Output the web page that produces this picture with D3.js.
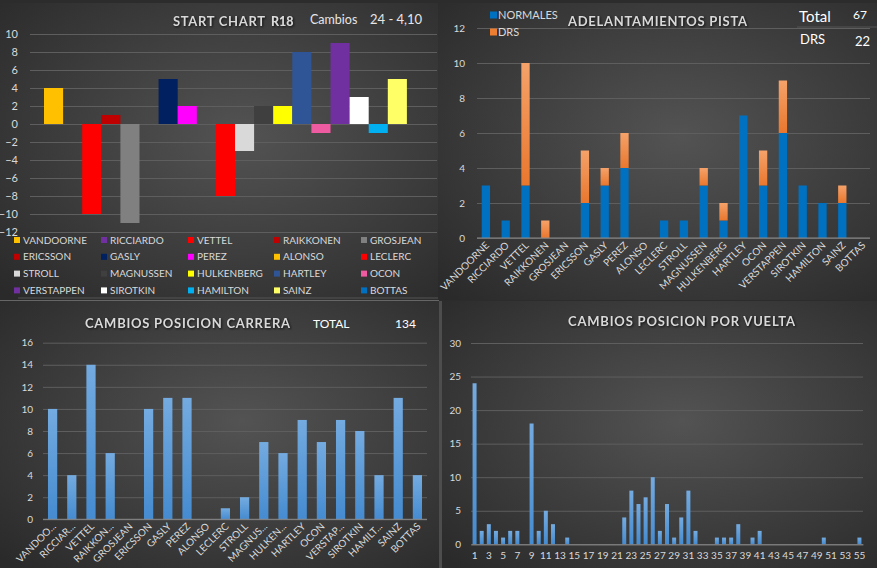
<!DOCTYPE html>
<html><head><meta charset="utf-8">
<script src="https://cdn.jsdelivr.net/npm/d3@7/dist/d3.min.js"></script>
<style>
body{margin:0;background:#2b2b2b;}
text{font-family:Lato,"Open Sans",sans-serif;}
.title{font-weight:bold;fill:#d9d9d9;filter:drop-shadow(1px 1px 1px #111);}
.axis text{fill:#d9d9d9;}
</style></head><body>
<svg id="c" width="877" height="568"></svg>
<script>
// ---------- DATA ----------
const drivers = ["VANDOORNE","RICCIARDO","VETTEL","RAIKKONEN","GROSJEAN","ERICSSON","GASLY","PEREZ","ALONSO","LECLERC","STROLL","MAGNUSSEN","HULKENBERG","HARTLEY","OCON","VERSTAPPEN","SIROTKIN","HAMILTON","SAINZ","BOTTAS"];
const driverColors = ["#FFC000","#7030A0","#FF0000","#C00000","#808080","#C00000","#002060","#FF00FF","#FFC000","#FF0000","#D9D9D9","#3F3F3F","#FFFF00","#2F5597","#EF5BA1","#7030A0","#FFFFFF","#00B0F0","#FFFF66","#0070C0"];
const startChange = [4,0,-10,1,-11,0,5,2,0,-8,-3,2,2,8,-1,9,3,-1,5,0];
const startTicks = [-12,-10,-8,-6,-4,-2,0,2,4,6,8,10];

const overtakeNormal = [3,1,3,0,0,2,3,4,0,1,1,3,1,7,3,6,3,2,2,0];
const overtakeDRS    = [0,0,7,1,0,3,1,2,0,0,0,1,1,0,2,3,0,0,1,0];
const overtakeTicks = [0,2,4,6,8,10,12];
const overtakeSeries = ["NORMALES","DRS"];

const raceLabels = ["VANDOO...","RICCIAR...","VETTEL","RAIKKON...","GROSJEAN","ERICSSON","GASLY","PEREZ","ALONSO","LECLERC","STROLL","MAGNUS...","HULKEN...","HARTLEY","OCON","VERSTAP...","SIROTKIN","HAMILT...","SAINZ","BOTTAS"];
const raceChanges = [10,4,14,6,0,10,11,11,0,1,2,7,6,9,7,9,8,4,11,4];
const raceTicks = [0,2,4,6,8,10,12,14,16];

const laps = [1,2,3,4,5,6,7,8,9,10,11,12,13,14,15,16,17,18,19,20,21,22,23,24,25,26,27,28,29,30,31,32,33,34,35,36,37,38,39,40,41,42,43,44,45,46,47,48,49,50,51,52,53,54,55];
const lapChanges = [24,2,3,2,1,2,2,0,18,2,5,3,0,1,0,0,0,0,0,0,0,4,8,6,7,10,2,6,1,4,8,2,0,0,1,1,1,3,0,1,2,0,0,0,0,0,0,0,0,1,0,0,0,0,1];
const lapTicks = [0,5,10,15,20,25,30];
const lapLabels = [1,3,5,7,9,11,13,15,17,19,21,23,25,27,29,31,33,35,37,39,41,43,45,47,49,51,53,55];

// ---------- SETUP ----------
const svg = d3.select("#c");
const defs = svg.append("defs");
function radial(id){
  const g = defs.append("radialGradient").attr("id",id).attr("cx","55%").attr("cy","45%").attr("r","75%");
  g.append("stop").attr("offset","0%").attr("stop-color","#535353");
  g.append("stop").attr("offset","100%").attr("stop-color","#2a2a2a");
}
function linear(id,top,bot){
  const g = defs.append("linearGradient").attr("id",id).attr("x1",0).attr("y1",0).attr("x2",0).attr("y2",1);
  g.append("stop").attr("offset","0%").attr("stop-color",top);
  g.append("stop").attr("offset","100%").attr("stop-color",bot);
}
radial("pg");
linear("blueg","#74abe0","#458bd0");
linear("orgg","#f5a26a","#e9772e");

svg.append("rect").attr("width",877).attr("height",568).attr("fill","#2c2c2c");
const panels = [[0,3,438,297],[438,3,439,297],[0,301,439,267],[442,301,435,267]];
svg.selectAll("rect.panel").data(panels).join("rect").attr("class","panel")
  .attr("x",d=>d[0]).attr("y",d=>d[1]).attr("width",d=>d[2]).attr("height",d=>d[3]).attr("fill","url(#pg)");
svg.append("line").attr("x1",0).attr("x2",439).attr("y1",300.5).attr("y2",300.5).attr("stroke","#666").attr("stroke-width",1.2);
svg.append("rect").attr("x",439).attr("y",301).attr("width",3).attr("height",267).attr("fill","#4d4d4d");

function styleAxis(g){
  g.select(".domain").remove();
  g.selectAll(".tick line").attr("stroke","#5e5e5e").attr("stroke-width",1);
  g.selectAll(".tick text").attr("fill","#d9d9d9");
}
function title(x,y,txt,len){
  const t = svg.append("text").attr("class","title").attr("x",x).attr("y",y)
    .style("font-size","13px").text(txt);
  if(len) t.attr("textLength",len).attr("lengthAdjust","spacing");
  return t;
}

// ---------- CHART 1: START CHART ----------
{
  const x = d3.scaleBand().domain(drivers).range([44,426]).padding(0);
  const y = d3.scaleLinear().domain([-12,10]).range([232,34]);
  const ga = svg.append("g").attr("class","axis").attr("transform","translate(30,0)")
    .call(d3.axisLeft(y).tickValues(startTicks).tickSize(-407).tickPadding(12))
    .style("font-size","11px");
  styleAxis(ga);
  svg.append("g").selectAll("rect").data(drivers).join("rect")
    .attr("x",d=>x(d)).attr("width",x.bandwidth())
    .attr("y",(d,i)=>y(Math.max(0,startChange[i])))
    .attr("height",(d,i)=>Math.abs(y(startChange[i])-y(0)))
    .attr("fill",(d,i)=>driverColors[i]);
  title(173,26,"START CHART",92);
  title(271,26,"R18").style("font-weight","900").style("font-size","12.5px");
  svg.append("text").attr("x",310).attr("y",24).attr("fill","#e6e6e6").style("font-size","12.5px").text("Cambios");
  svg.append("text").attr("x",370).attr("y",24).attr("fill","#e6e6e6").style("font-size","13px").text("24  -  4,10");
  // legend
  const lg = svg.append("g").selectAll("g").data(drivers).join("g")
    .attr("transform",(d,i)=>`translate(${[14,101,188,274,361][i%5]},${240+Math.floor(i/5)*16.8})`);
  lg.append("rect").attr("x",0).attr("y",-3).attr("width",6).attr("height",6).attr("fill",(d,i)=>driverColors[i]);
  lg.append("text").attr("x",9).attr("y",3.6).attr("fill","#d9d9d9").style("font-size","10px").text(d=>d);
  svg.append("line").attr("x1",18).attr("x2",438).attr("y1",298).attr("y2",298).attr("stroke","#555");
}

// ---------- CHART 2: ADELANTAMIENTOS ----------
{
  const x = d3.scaleBand().domain(drivers).range([476,872]).paddingInner(0.58).paddingOuter(0.29);
  const y = d3.scaleLinear().domain([0,12]).range([238,28]);
  const ga = svg.append("g").attr("class","axis").attr("transform","translate(477,0)")
    .call(d3.axisLeft(y).tickValues(overtakeTicks).tickSize(-393).tickPadding(12))
    .style("font-size","10px");
  styleAxis(ga);
  const stack = d3.stack().keys([0,1]).value((d,k)=>k===0?overtakeNormal[d]:overtakeDRS[d])(d3.range(drivers.length));
  const fills = ["#0070C0","url(#orgg)"];
  stack.forEach((s,k)=>{
    svg.append("g").selectAll("rect").data(s).join("rect")
      .attr("x",(d,i)=>x(drivers[i])).attr("width",x.bandwidth())
      .attr("y",d=>y(d[1])).attr("height",d=>y(d[0])-y(d[1]))
      .attr("fill",fills[k]);
  });
  svg.append("line").attr("x1",477).attr("x2",870).attr("y1",238).attr("y2",238).attr("stroke","#8a8a8a");
  svg.append("g").selectAll("text").data(drivers).join("text")
    .attr("transform",d=>`translate(${x(d)+x.bandwidth()/2+4},${246}) rotate(-45)`)
    .attr("text-anchor","end").attr("fill","#d9d9d9").style("font-size","10px").text(d=>d);
  title(568,26,"ADELANTAMIENTOS PISTA",179);
  const lg = svg.append("g").selectAll("g").data(overtakeSeries).join("g").attr("transform",(d,i)=>`translate(490,${15+i*17})`);
  lg.append("rect").attr("x",0).attr("y",-3.5).attr("width",7).attr("height",7).attr("fill",(d,i)=>["#0070C0","#ED7D31"][i]);
  lg.append("text").attr("x",8).attr("y",4).attr("fill","#d9d9d9").style("font-size","11px").text(d=>d);
  svg.append("text").attr("x",799).attr("y",22).attr("fill","#ffffff").style("font-size","15px").text("Total");
  svg.append("text").attr("x",853).attr("y",19).attr("fill","#ffffff").style("font-size","12px").text("67");
  svg.append("line").attr("x1",797).attr("x2",877).attr("y1",27).attr("y2",27).attr("stroke","#555");
  svg.append("text").attr("x",800).attr("y",44).attr("fill","#ffffff").style("font-size","13px").text("DRS");
  svg.append("text").attr("x",855).attr("y",46).attr("fill","#ffffff").style("font-size","13px").text("22");
}

// ---------- CHART 3: CAMBIOS POSICION CARRERA ----------
{
  const x = d3.scaleBand().domain(raceLabels).range([43,427]).paddingInner(0.52).paddingOuter(0.26);
  const y = d3.scaleLinear().domain([0,16]).range([519.3,342.7]);
  const ga = svg.append("g").attr("class","axis").attr("transform","translate(43,0)")
    .call(d3.axisLeft(y).tickValues(raceTicks).tickSize(-384).tickPadding(10))
    .style("font-size","10px");
  styleAxis(ga);
  svg.append("g").selectAll("rect").data(raceLabels).join("rect")
    .attr("x",d=>x(d)).attr("width",x.bandwidth())
    .attr("y",(d,i)=>y(raceChanges[i])).attr("height",(d,i)=>y(0)-y(raceChanges[i]))
    .attr("fill","url(#blueg)");
  svg.append("line").attr("x1",43).attr("x2",427).attr("y1",519.3).attr("y2",519.3).attr("stroke","#8a8a8a");
  svg.append("g").selectAll("text").data(raceLabels).join("text")
    .attr("transform",d=>`translate(${x(d)+x.bandwidth()/2+4},${527}) rotate(-45)`)
    .attr("text-anchor","end").attr("fill","#d9d9d9").style("font-size","10px").text(d=>d);
  title(85,328,"CAMBIOS POSICION CARRERA",205);
  svg.append("text").attr("x",313).attr("y",328).attr("fill","#ffffff").style("font-size","12px").text("TOTAL");
  svg.append("text").attr("x",395).attr("y",328).attr("fill","#ffffff").style("font-size","12px").text("134");
}

// ---------- CHART 4: CAMBIOS POSICION POR VUELTA ----------
{
  const x = d3.scaleBand().domain(laps).range([471,863]).paddingInner(0.44).paddingOuter(0.22);
  const y = d3.scaleLinear().domain([0,30]).range([544.3,343]);
  const ga = svg.append("g").attr("class","axis").attr("transform","translate(471,0)")
    .call(d3.axisLeft(y).tickValues(lapTicks).tickSize(-392).tickPadding(10))
    .style("font-size","10px");
  styleAxis(ga);
  svg.append("g").selectAll("rect").data(laps).join("rect")
    .attr("x",d=>x(d)).attr("width",x.bandwidth())
    .attr("y",(d,i)=>y(lapChanges[i])).attr("height",(d,i)=>y(0)-y(lapChanges[i]))
    .attr("fill","url(#blueg)");
  const gx = svg.append("g").attr("class","axis").attr("transform","translate(0,544.3)")
    .call(d3.axisBottom(x).tickValues(lapLabels).tickSize(0).tickPadding(8))
    .style("font-size","10px");
  gx.select(".domain").attr("stroke","#8a8a8a");
  gx.selectAll(".tick text").attr("fill","#d9d9d9");
  title(568,326,"CAMBIOS POSICION POR VUELTA",227);
}
</script></body></html>
